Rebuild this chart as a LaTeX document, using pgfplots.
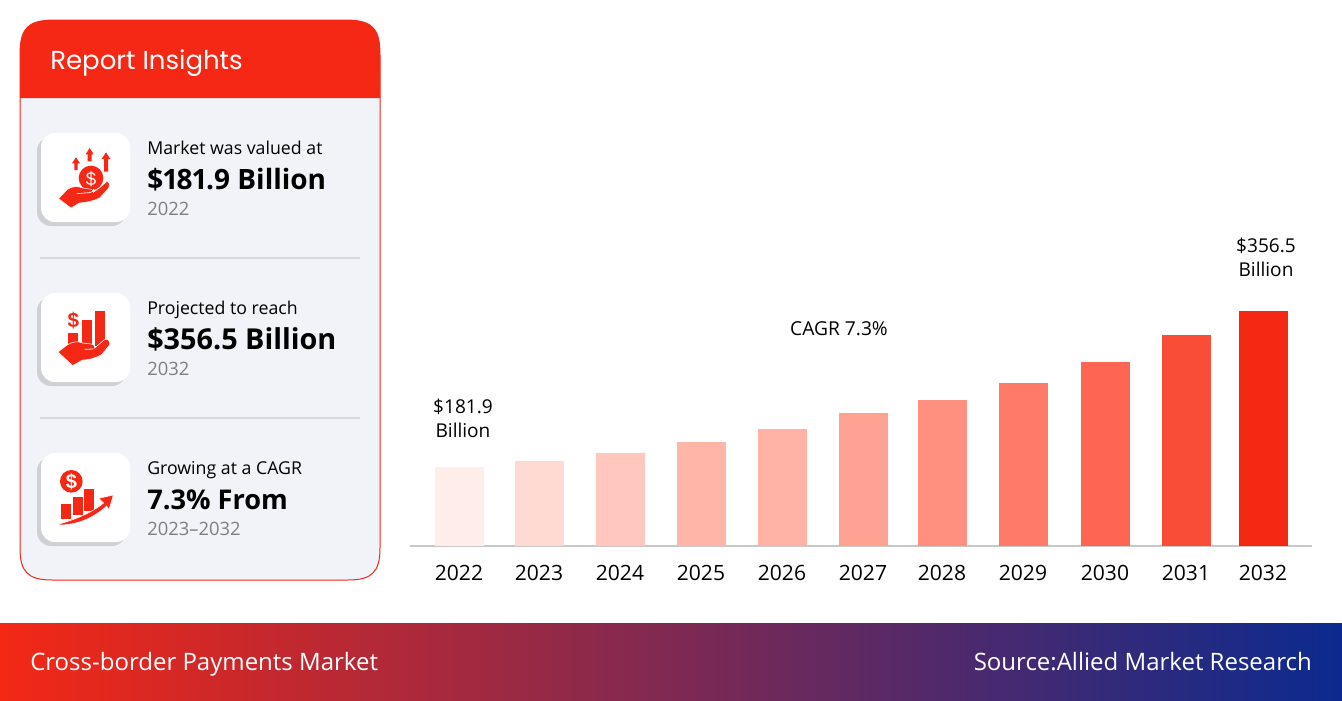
\documentclass[border=0pt]{standalone}
\usepackage{fontspec}
\usepackage{pgfplots}
\pgfplotsset{compat=1.18}
\setmainfont[Numbers=Proportional]{Open Sans}
\newfontfamily\pop{Poppins}
\newfontfamily\lib{Liberation Sans}
\newfontfamily\opn{Open Sans}
\definecolor{rd}{HTML}{F42815}
\definecolor{panel}{HTML}{F2F3F9}
\definecolor{shadowc}{HTML}{CFD0D5}
\definecolor{divc}{HTML}{D6D8DE}
\definecolor{greyt}{HTML}{7E7F86}
\newcommand{\fs}[1]{\fontsize{#1}{#1}\selectfont}
\newcommand{\card}[1]{%
  \fill[shadowc,rounded corners=10.5pt] (37,#1+4) rectangle (126,#1+93);
  \fill[white,rounded corners=10.5pt] (41,#1) rectangle (130,#1+89);
}
\newcommand{\info}[5]{%
  \node[anchor=base west,inner sep=0pt,text=black] at (147,#1+21) {\fs{13.3}#2};
  \node[anchor=base west,inner sep=0pt,text=black] at (147,#1+56) {\fs{#5}\bfseries #3};
  \node[anchor=base west,inner sep=0pt,text=greyt] at (147,#1+82) {\fs{13.8}#4};
}
\begin{document}
\begin{tikzpicture}[x=0.75pt,y=-0.75pt]
\useasboundingbox (0,0) rectangle (1342,700);
\fill[white] (0,0) rectangle (1342,700);
% panel
\path[fill=panel,draw=rd,line width=0.75pt] (20,55) .. controls (20,28) and (28,20) .. (55,20) -- (345,20) .. controls (372,20) and (380,28) .. (380,55) -- (380,548) .. controls (380,572) and (372,580) .. (348,580) -- (52,580) .. controls (28,580) and (20,572) .. (20,548) -- cycle;
\fill[rd] (20,98) -- (20,55) .. controls (20,28) and (28,20) .. (55,20) -- (345,20) .. controls (372,20) and (380,28) .. (380,55) -- (380,98) -- cycle;
\node[anchor=base west,inner sep=0pt,text=white] at (50,69) {\pop\fs{19.5}Report Insights};
\draw[divc,line width=1.1pt] (40,258) -- (360,258);
\draw[divc,line width=1.1pt] (40,418) -- (360,418);
\card{133}\card{293}\card{453}
\info{133}{Market was valued at}{\$181.9 Billion}{2022}{21}
\info{293}{Projected to reach}{\$356.5 Billion}{2032}{21.6}
\info{453}{Growing at a CAGR}{7.3\% From}{2023--2032}{20.4}
% icon 1
\begin{scope}[shift={(36,128)},x=0.25pt,y=-0.25pt]
\fill[rd] (120,88) -- (132,106) -- (125,106) -- (125,126) -- (115,126) -- (115,106) -- (108,106) -- cycle;
\fill[rd] (161,60) -- (173,79) -- (167,79) -- (167,100) -- (155,100) -- (155,79) -- (149,79) -- cycle;
\fill[rd] (210,73) -- (223,93) -- (216,93) -- (216,131) -- (204,131) -- (204,93) -- (197,93) -- cycle;
\fill[rd] (165,150) circle (37);
\node[text=white,inner sep=0pt] at (165,153) {\lib\fs{14}\$};
\path[fill=rd,draw=white,line width=0.35pt] (68,212) -- (94,184) .. controls (110,174) and (125,174) .. (140,180) -- (165,184) .. controls (172,186) and (173,190) .. (172,193) -- (190,180) -- (212,161) .. controls (219,160) and (222,170) .. (218,180) -- (192,209) .. controls (172,220) and (150,223) .. (130,225) -- (105,240) -- cycle;
\draw[white,line width=0.5pt] (122,197) -- (160,194) .. controls (168,193) and (172,190) .. (174,183);
\end{scope}
% icon 2
\begin{scope}[shift={(36,288)},x=0.25pt,y=-0.25pt]
\fill[rd] (97,135) rectangle (127,175);
\fill[rd] (138,97) rectangle (168,170);
\fill[rd] (178,69) rectangle (208,175);
\node[text=rd,inner sep=0pt] at (112,98) {\lib\bfseries\fs{15.5}\$};
\path[fill=rd,draw=white,line width=0.45pt] (66,192) -- (93,171) .. controls (110,161) and (125,158) .. (140,165) -- (165,168) .. controls (175,170) and (178,174) .. (176,180) -- (205,155) .. controls (216,150) and (225,160) .. (220,172) -- (197,200) .. controls (177,212) and (155,216) .. (140,216) -- (110,233) -- cycle;
\draw[white,line width=0.6pt] (146,184) -- (172,183);
\end{scope}
% icon 3
\begin{scope}[shift={(36,448)},x=0.25pt,y=-0.25pt]
\fill[rd] (106,100) circle (34);
\node[text=white,inner sep=0pt] at (106,101) {\lib\bfseries\fs{15}\$};
\fill[rd] (75,169) rectangle (104,214);
\fill[rd] (111,147) rectangle (140,202);
\fill[rd] (145,123) rectangle (175,188);
\path[fill=rd,draw=white,line width=0.4pt] (66,229) .. controls (125,212) and (165,195) .. (203,165) -- (188,151) -- (232,141) -- (219,185) -- (212,174) .. controls (175,208) and (125,232) .. (66,231) -- cycle;
\end{scope}
% footer
\shade[left color=rd,right color={rgb,255:red,11;green,42;blue,143}] (0,623) rectangle (1342,700);
\node[anchor=base west,inner sep=0pt,text=white] at (30,670) {\opn\fs{18}Cross-border Payments Market};
\node[anchor=base east,inner sep=0pt,text=white] at (1312,670) {\opn\fs{18}Source:Allied Market Research};
% text annotations
\node[anchor=base,inner sep=0pt] at (463,413) {\opn\fs{14.3}\$181.9};
\node[anchor=base,inner sep=0pt] at (463,437) {\opn\fs{14.3}Billion};
\node[anchor=base,inner sep=0pt] at (1266,252) {\opn\fs{14.3}\$356.5};
\node[anchor=base,inner sep=0pt] at (1266,276) {\opn\fs{14.3}Billion};
\node[anchor=base,inner sep=0pt] at (839,335) {\opn\fs{14.4}CAGR 7.3\%};
% chart
\coordinate (axo) at (410,546);
\begin{axis}[
  at={(axo)},anchor=south west,
  scale only axis,width=676.5pt,height=176.25pt,
  xmin=410,xmax=1312,ymin=93.5,ymax=356.5,
  ybar,bar width=36.75pt,
  axis x line*=bottom,axis y line=none,
  axis line style={draw={rgb,255:red,200;green,200;blue,200},line width=1.1pt,-},
  xtick={459.5,539.5,620.5,701.5,782.5,863.5,942.5,1023.5,1105.5,1186.5,1263.5},
  xticklabels={2022,2023,2024,2025,2026,2027,2028,2029,2030,2031,2032},
  major tick length=0pt,
  xticklabel style={font=\opn\fs{15.8},text height=11.5pt,inner sep=0pt,yshift=-14pt,xshift=-0.4pt},
  clip=false,
  every axis plot/.append style={draw=none,bar shift=0pt},
]
\addplot[fill={rgb,255:red,255;green,237;blue,233}] coordinates {(459.5,181.9)};
\addplot[fill={rgb,255:red,255;green,218;blue,211}] coordinates {(539.5,188.6)};
\addplot[fill={rgb,255:red,255;green,199;blue,189}] coordinates {(620.5,197.6)};
\addplot[fill={rgb,255:red,255;green,181;blue,168}] coordinates {(701.5,209.9)};
\addplot[fill={rgb,255:red,255;green,179;blue,166}] coordinates {(782.5,224.4)};
\addplot[fill={rgb,255:red,255;green,162;blue,147}] coordinates {(863.5,242.4)};
\addplot[fill={rgb,255:red,255;green,143;blue,126}] coordinates {(942.5,256.9)};
\addplot[fill={rgb,255:red,255;green,122;blue,105}] coordinates {(1023.5,275.9)};
\addplot[fill={rgb,255:red,255;green,101;blue,83}] coordinates {(1105.5,299.4)};
\addplot[fill={rgb,255:red,249;green,77;blue,56}] coordinates {(1186.5,329.6)};
\addplot[fill={rgb,255:red,245;green,40;blue,20}] coordinates {(1263.5,356.5)};
\end{axis}
\end{tikzpicture}
\end{document}
